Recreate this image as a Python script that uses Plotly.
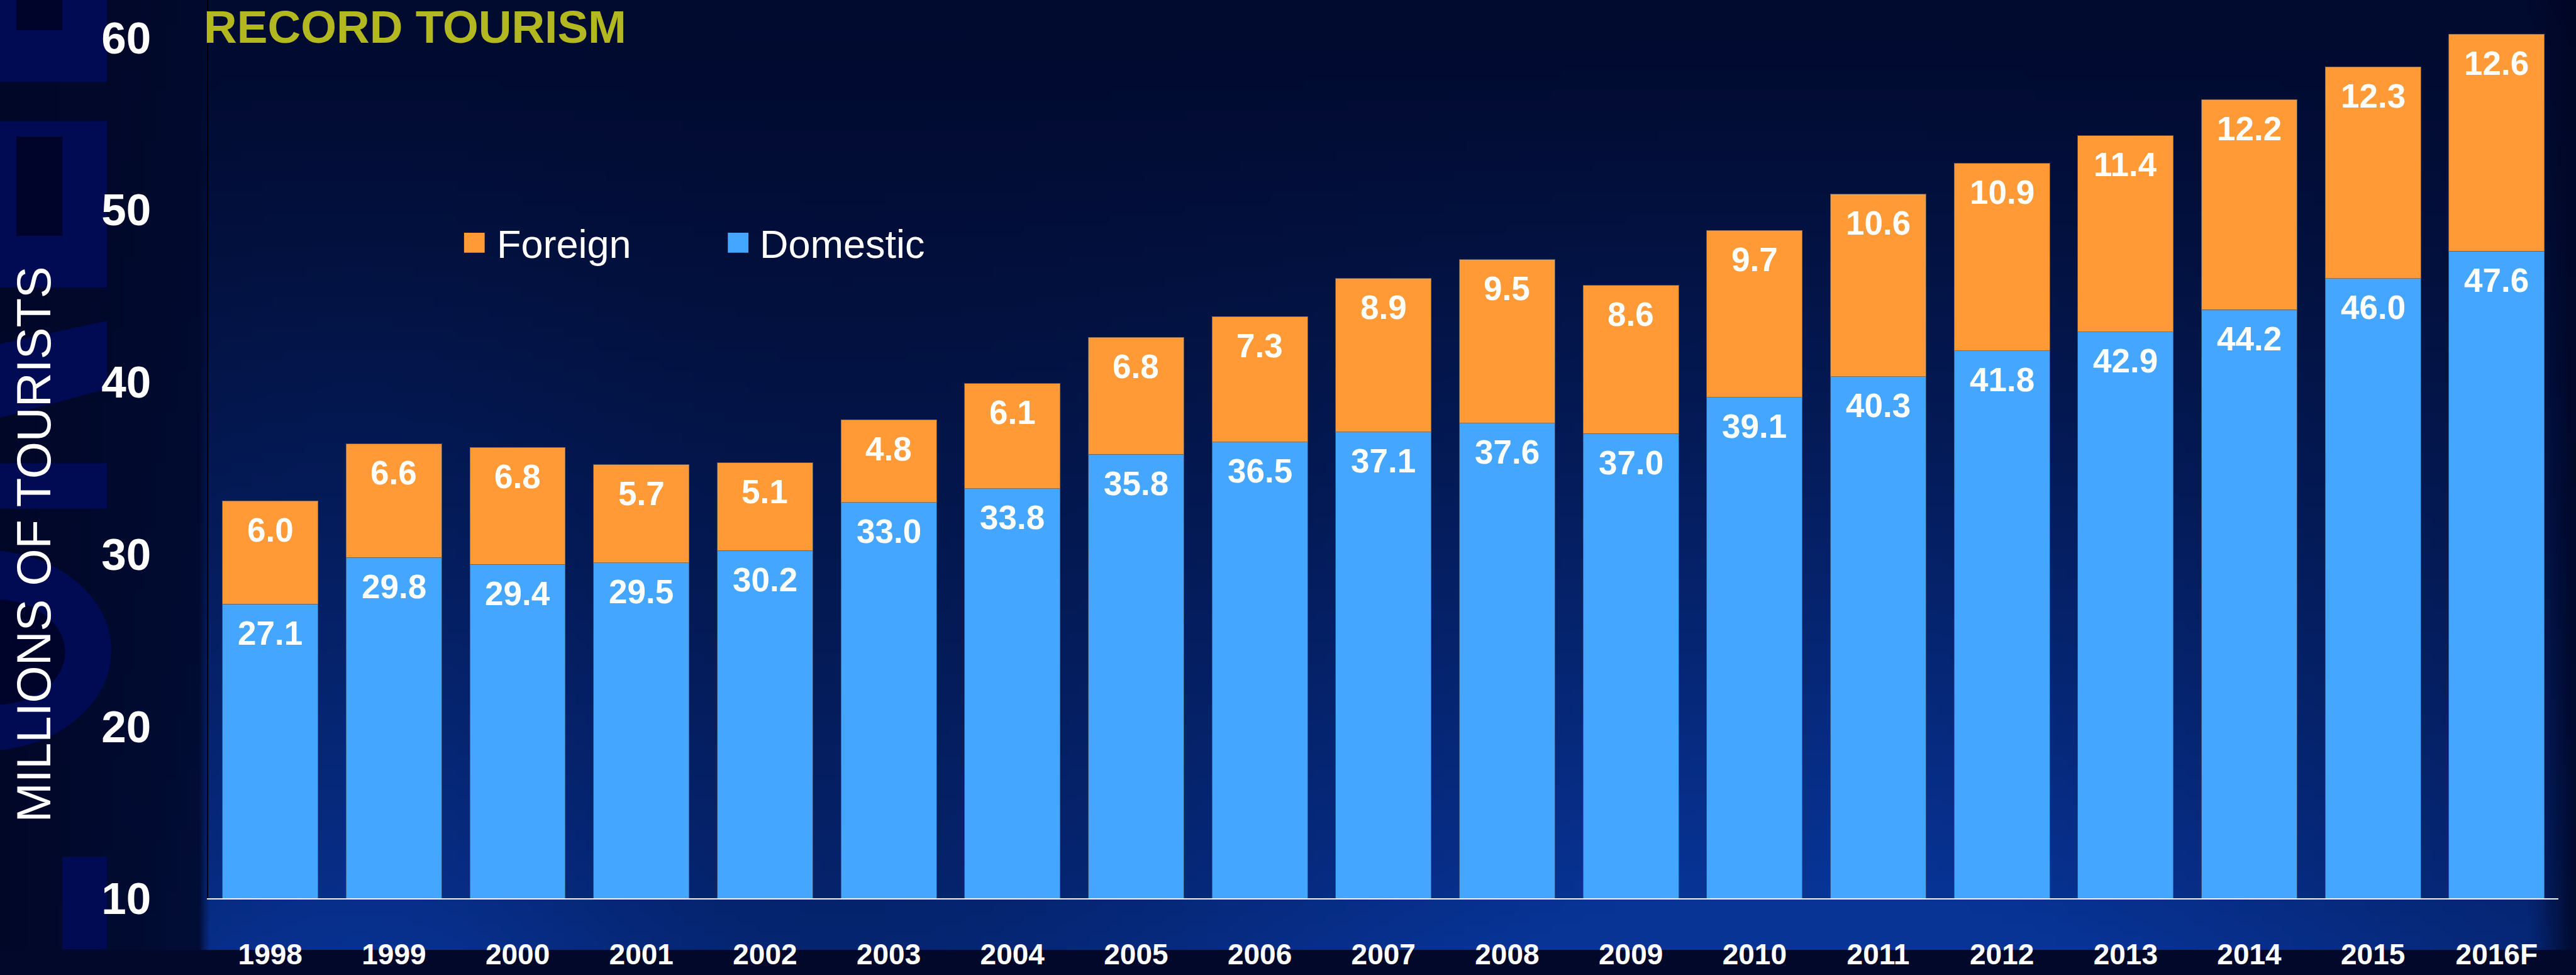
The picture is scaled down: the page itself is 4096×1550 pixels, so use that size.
import numpy as np
import zlib, struct, base64
import plotly.graph_objects as go

# ---------------- data ----------------
years = ["1998", "1999", "2000", "2001", "2002", "2003", "2004", "2005", "2006",
         "2007", "2008", "2009", "2010", "2011", "2012", "2013", "2014", "2015", "2016F"]
domestic = [27.1, 29.8, 29.4, 29.5, 30.2, 33.0, 33.8, 35.8, 36.5,
            37.1, 37.6, 37.0, 39.1, 40.3, 41.8, 42.9, 44.2, 46.0, 47.6]
foreign = [6.0, 6.6, 6.8, 5.7, 5.1, 4.8, 6.1, 6.8, 7.3,
           8.9, 9.5, 8.6, 9.7, 10.6, 10.9, 11.4, 12.2, 12.3, 12.6]
y_ticks = [10, 20, 30, 40, 50, 60]
title_text = "RECORD TOURISM"
y_title = "MILLIONS OF TOURISTS"
legend_names = ["Foreign", "Domestic"]

# ---------------- geometry helpers (reference px -> paper) ----------------
S = 0.863
W, H = 4096, 1550
RW, RH = 4742, 1795


def px(x):
    return x * S / W


def py(y):
    return 1 - y * S / H


BLUE = "#44A6FF"
ORANGE = "#FF9A36"
FONT = "Liberation Sans"

# ---------------- background gradient image ----------------
gw, gh = 240, 91
X = (np.arange(gw) + 0.5) / gw * RW
Y = (np.arange(gh) + 0.5) / gh * RH
XX, YY = np.meshgrid(X, Y)
vy = (YY / RH) ** 1.3
hx = 0.5 + 0.5 * np.exp(-((XX - 3300) / 1200) ** 2) + 0.35 * np.exp(-((XX - 650) / 550) ** 2)
f = np.clip(vy * hx + 0.10, 0, 1)
f = np.where(XX < 385, 0.03 + 0.10 * (XX / 385) * (0.5 + vy), f)
edge = np.clip(1 - (XX - 4660) / 90, 0.15, 1)
f = f * edge
dark = np.array([1, 6, 36], dtype=float)
bright = np.array([8, 52, 150], dtype=float)
img = dark[None, None, :] + f[..., None] * (bright - dark)[None, None, :]
img = np.clip(img, 0, 255).astype(np.uint8)


def png_bytes(arr):
    h, w, _ = arr.shape
    raw = b"".join(b"\x00" + arr[i].tobytes() for i in range(h))

    def chunk(t, d):
        return struct.pack(">I", len(d)) + t + d + struct.pack(">I", zlib.crc32(t + d) & 0xffffffff)

    ihdr = struct.pack(">IIBBBBB", w, h, 8, 2, 0, 0, 0)
    return b"\x89PNG\r\n\x1a\n" + chunk(b"IHDR", ihdr) + chunk(b"IDAT", zlib.compress(raw, 9)) + chunk(b"IEND", b"")


bg_src = "data:image/png;base64," + base64.b64encode(png_bytes(img)).decode()

# ---------------- figure ----------------
fig = go.Figure()
fig.add_trace(go.Bar(x=years, y=domestic, name=legend_names[1],
                     marker=dict(color=BLUE, line=dict(color="rgba(60,90,130,0.8)", width=1)),
                     hoverinfo="x+y"))
fig.add_trace(go.Bar(x=years, y=foreign, name=legend_names[0],
                     marker=dict(color=ORANGE, line=dict(color="rgba(110,100,90,0.8)", width=1)),
                     hoverinfo="x+y"))

annotations = []
label_font = dict(family=FONT, size=53, color="white", weight="bold")
for i, (d, fo) in enumerate(zip(domestic, foreign)):
    annotations.append(dict(x=i, y=d, xref="x", yref="y", text=f"{d:.1f}", showarrow=False,
                            yanchor="middle", xanchor="center", yshift=-46, font=label_font))
    annotations.append(dict(x=i, y=d + fo, xref="x", yref="y", text=f"{fo:.1f}", showarrow=False,
                            yanchor="middle", xanchor="center", yshift=-46, font=label_font))

# title
annotations.append(dict(x=px(373), y=py(50.5), xref="paper", yref="paper", text=title_text,
                        showarrow=False, xanchor="left", yanchor="middle",
                        font=dict(family=FONT, size=73, color="#B4B820", weight="bold")))
# y axis title
annotations.append(dict(x=px(62), y=py(1030), xref="paper", yref="paper", text=y_title,
                        showarrow=False, xanchor="center", yanchor="middle", textangle=-90,
                        font=dict(family=FONT, size=76, color="white")))
# legend texts
annotations.append(dict(x=px(913), y=py(461), xref="paper", yref="paper", text=legend_names[0],
                        showarrow=False, xanchor="left", yanchor="middle",
                        font=dict(family=FONT, size=63, color="white")))
annotations.append(dict(x=px(1398), y=py(461), xref="paper", yref="paper", text=legend_names[1],
                        showarrow=False, xanchor="left", yanchor="middle",
                        font=dict(family=FONT, size=63, color="white")))

LET = "#000b54"
DRK = "#00042a"
shapes = []


def rect(x0, y0, x1, y1, color, layer="below"):
    shapes.append(dict(type="rect", xref="paper", yref="paper", x0=px(x0), x1=px(x1),
                       y0=py(y1), y1=py(y0), fillcolor=color, line=dict(width=0), layer=layer))


def ell(x0, y0, x1, y1, color):
    shapes.append(dict(type="circle", xref="paper", yref="paper", x0=px(x0), x1=px(x1),
                       y0=py(y1), y1=py(y0), fillcolor=color, line=dict(width=0), layer="below"))


# faint background letter shapes at the left edge
rect(0, 0, 197, 155, LET)
rect(30, 0, 115, 57, DRK)
rect(0, 229, 197, 544, LET)
rect(30, 258, 115, 446, DRK)
shapes.append(dict(type="path", xref="paper", yref="paper", layer="below",
                   path=f"M {px(0)},{py(650)} L {px(197)},{py(607)} L {px(197)},{py(735)} L {px(0)},{py(790)} Z",
                   fillcolor=LET, line=dict(width=0)))
rect(0, 876, 197, 962, LET)
ell(-265, 1040, 205, 1420, LET)
ell(-140, 1133, 120, 1333, DRK)
rect(115, 1620, 197, 1795, LET)

# legend squares
rect(855, 440, 893, 478, ORANGE, "above")
rect(1341, 440, 1379, 478, BLUE, "above")

x_left = px(384)
x_right = px(4714)
y_bottom = py(1699)
y_per_unit = 32.56 * S / H  # paper units per value unit
y_top_val = 10 + (1 - y_bottom) / y_per_unit

fig.update_layout(
    width=W, height=H, autosize=False,
    margin=dict(l=0, r=0, t=0, b=0, pad=0),
    paper_bgcolor="#01082a",
    plot_bgcolor="rgba(0,0,0,0)",
    barmode="stack", bargap=0.228,
    showlegend=False,
    images=[dict(source=bg_src, xref="paper", yref="paper", x=0, y=1, sizex=1, sizey=1,
                 xanchor="left", yanchor="top", sizing="stretch", layer="below")],
    shapes=shapes,
    annotations=annotations,
    xaxis=dict(type="category", categoryorder="array", categoryarray=years,
               range=[-0.5, len(years) - 0.5], domain=[x_left, x_right],
               showgrid=False, zeroline=False, showline=True, linecolor="#eef2ff", linewidth=2,
               ticks="", ticklabelstandoff=47,
               tickfont=dict(family=FONT, size=46, color="white", weight="bold")),
    yaxis=dict(range=[10, y_top_val], domain=[y_bottom, 1], tickvals=y_ticks,
               showgrid=False, zeroline=False, showline=True, linecolor="#000000", linewidth=2,
               ticks="", ticklabelstandoff=75,
               tickfont=dict(family=FONT, size=71, color="white", weight="bold")),
)

fig.write_html("out.html")
